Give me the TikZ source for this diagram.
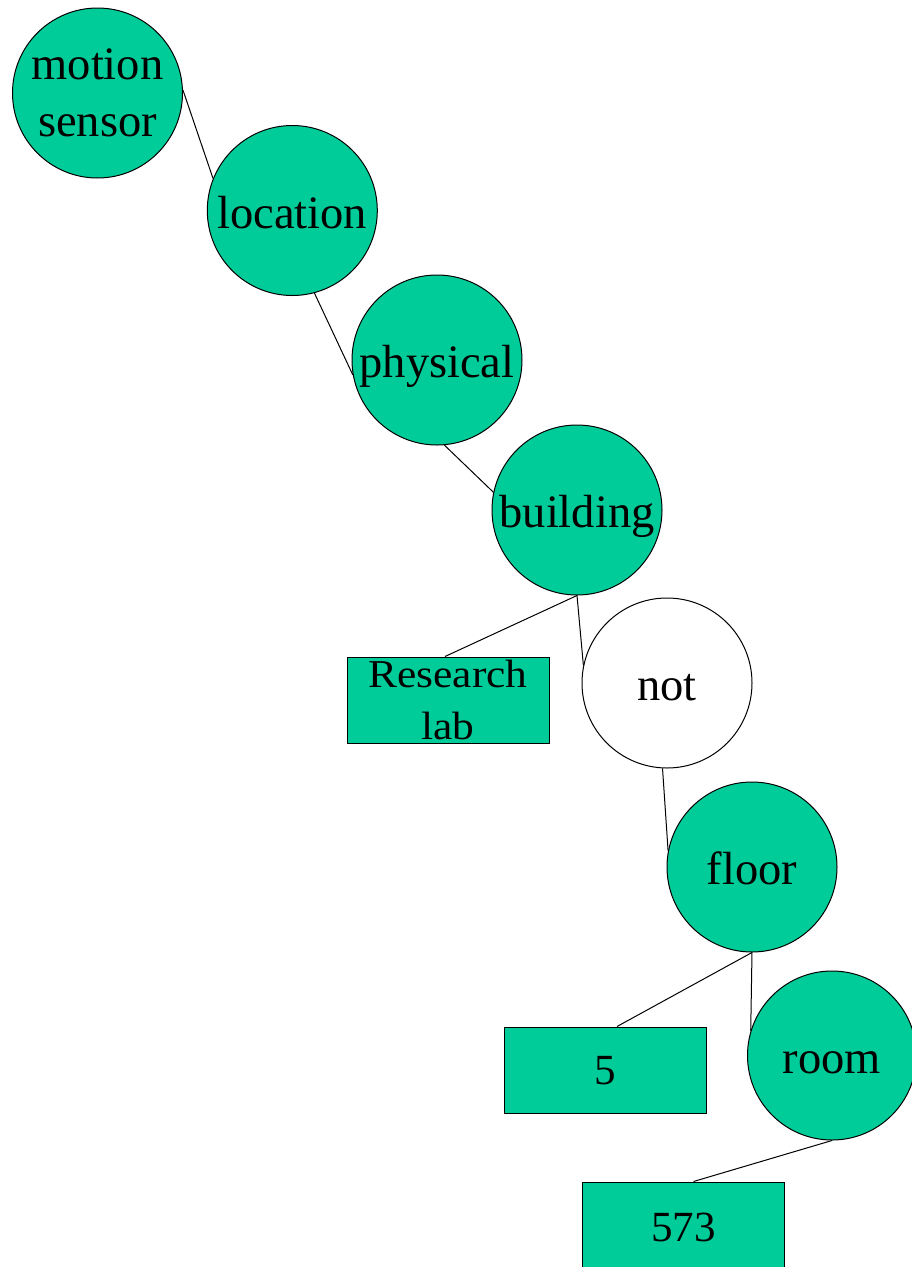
\documentclass[tikz,border=0pt]{standalone}
\usepackage{fontspec}
\setmainfont{Liberation Serif}
\newfontfamily\widefont[FakeStretch=1.1]{Liberation Serif}
\definecolor{teal}{RGB}{0,204,153}
\begin{document}
\begin{tikzpicture}[x=1pt,y=-1pt,
  every node/.style={font=\fontsize{46.5}{56.7}\selectfont, inner sep=0pt},
  concept/.style={circle, draw=black, line width=1pt, fill=teal,
    minimum size=170pt, text height=35pt, text depth=0pt},
  negation/.style={concept, fill=white},
  twoline/.style={circle, draw=black, line width=1pt, fill=teal,
    minimum size=170pt, align=center},
  valuebox/.style={rectangle, draw=black, line width=1pt, fill=teal,
    minimum width=202pt, minimum height=86pt, text depth=0pt,
    font=\fontsize{43}{50}\selectfont},
  link/.style={draw=black, line width=1pt}]
\useasboundingbox (0,0) rectangle (912,1267);
\clip (0,0) rectangle (912,1267);

% concept chain
\node[twoline] (ms) at (97.5,93) {motion\\sensor};
\node[concept] (loc) at (292.3,210.5) {location};
\node[concept] (phys) at (437,360) {physical};
\node[concept] (bld) at (577,510) {building};
\node[valuebox, text depth=, align=center,
  font=\widefont\fontsize{39.5}{52.4}\selectfont] (rl) at (448,700) {Research\\lab};
\node[negation] (neg) at (667,683) {not};
\node[concept] (flr) at (752,867) {floor};
\node[valuebox, text height=29pt] (five) at (605,1070) {5};
\node[concept, minimum size=169pt] (room) at (832,1055.5) {room};
\node[valuebox, text height=32pt] (num) at (683.5,1225) {573};

% connectors
\draw[link] (ms.2) -- (loc.158);
\draw[link] (loc.-75) -- (phys.190);
\draw[link] (phys.-85) -- (bld.168);
\draw[link] (bld.south) -- ([xshift=-3pt]rl.north);
\draw[link] (bld.south) -- (neg.168);
\draw[link] (neg.-93) -- (flr.169);
\draw[link] (flr.south) -- ([xshift=12pt]five.north);
\draw[link] (flr.south) -- (room.163);
\draw[link] (room.south) -- ([xshift=10pt]num.north);
\end{tikzpicture}
\end{document}
